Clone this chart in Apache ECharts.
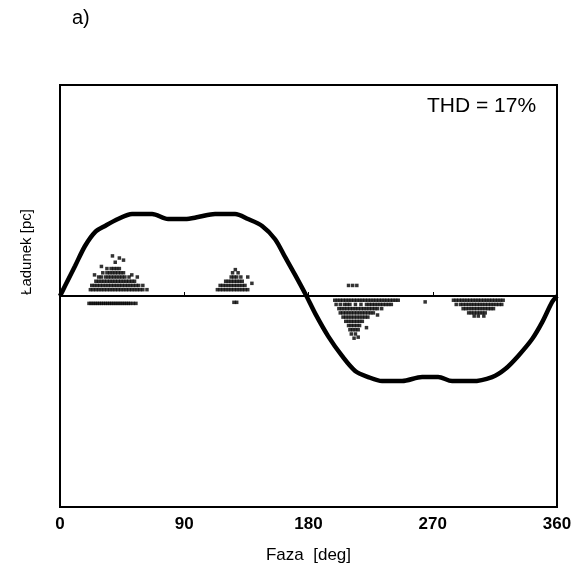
<!DOCTYPE html>
<html><head><meta charset="utf-8">
<script src="https://cdn.jsdelivr.net/npm/echarts@6/dist/echarts.min.js"></script>
<style>html,body{margin:0;padding:0;background:#fff}#c{width:585px;height:571px}</style>
</head><body><div id="c"></div>
<script>
// phase (deg) of the charge curve and its values
const curvePhase = [0,3.6,10.9,18.1,25.4,32.6,42,52.2,66.7,78.3,90.6,100,112.3,126.8,136.2,146.4,155.8,163,170.3,178.5,185,194.2,204.3,213.8,223.2,233.3,247.8,262.3,273.9,284,298.6,313,322.5,331.9,342,349.3,356.5,360];
const curveValue = [0,4.7,14.2,23.7,30.3,33.2,36.5,38.9,38.9,36.5,36.5,37.4,38.9,38.9,36.5,33.2,26.9,18.5,10,0,-8.5,-19,-28.4,-35.5,-38.4,-40.3,-40.3,-38.4,-38.4,-40.3,-40.3,-38.4,-34.6,-28.4,-20.4,-12.4,-2.8,0];
const zeroLine = [[0,0],[360,0]];
const xTicks = [0,90,180,270,360];

// partial discharge pulses: rows of [phase, value]
const pdCluster1 = [
 [22,3],[24,3],[26,3],[28,3],[30,3],[32,3],[34,3],[36,3],[38,3],[40,3],[42,3],[44,3],[46,3],[48,3],[50,3],[52,3],[54,3],[56,3],[58,3],[60,3],
 [23,5],[25,5],[27,5],[29,5],[31,5],[33,5],[35,5],[37,5],[39,5],[41,5],[43,5],[45,5],[47,5],[49,5],[51,5],[53,5],[55,5],[57,5],
 [26,7],[28,7],[30,7],[32,7],[34,7],[36,7],[38,7],[40,7],[42,7],[44,7],[46,7],[48,7],[50,7],[52,7],[54,7],
 [28,9],[30,9],[33,9],[35,9],[37,9],[39,9],[41,9],[43,9],[45,9],[47,9],[50,9],
 [31,11],[34,11],[36,11],[38,11],[40,11],[42,11],[44,11],[46,11],
 [34,13],[37,13],[39,13],[41,13],[43,13],
 [30,14],[40,16],[43,18],[46,17],[38,19],[52,10],[56,9],[25,10],[60,5],[63,3]
];
const pdBelow1 = [[21,-3.5],[22.5,-3.5],[24,-3.5],[25.5,-3.5],[27,-3.5],[28.5,-3.5],[30,-3.5],[31.5,-3.5],[33,-3.5],[34.5,-3.5],[36,-3.5],[37.5,-3.5],[39,-3.5],[40.5,-3.5],[42,-3.5],[43.5,-3.5],[45,-3.5],[46.5,-3.5],[48,-3.5],[49.5,-3.5],[51,-3.5],[53,-3.5],[55,-3.5]];
const pdCluster2 = [
 [114,3],[116,3],[118,3],[120,3],[122,3],[124,3],[126,3],[128,3],[130,3],[132,3],[134,3],[136,3],
 [116,5],[118,5],[120,5],[122,5],[124,5],[126,5],[128,5],[130,5],[132,5],[134,5],
 [120,7],[122,7],[124,7],[126,7],[128,7],[130,7],[132,7],
 [124,9],[126,9],[128,9],[131,9],
 [125,11],[129,11],[127,12.5],[139,6],[136,9],
 [126,-3],[128,-3]
];
const pdCluster3 = [
 [199,-2],[201,-2],[203,-2],[205,-2],[207,-2],[209,-2],[211,-2],[213,-2],[215,-2],[217,-2],[219,-2],[221,-2],[223,-2],[225,-2],[227,-2],[229,-2],[231,-2],[233,-2],[235,-2],[237,-2],[239,-2],[241,-2],[243,-2],[245,-2],
 [200,-4],[203,-4],[206,-4],[208,-4],[210,-4],[214,-4],[218,-4],[222,-4],[224,-4],[226,-4],[228,-4],[230,-4],[232,-4],[234,-4],[236,-4],[238,-4],[240,-4],
 [202,-6],[204,-6],[206,-6],[208,-6],[210,-6],[212,-6],[214,-6],[216,-6],[218,-6],[220,-6],[222,-6],[224,-6],[226,-6],[228,-6],[230,-6],[233,-6],
 [203,-8],[205,-8],[207,-8],[209,-8],[211,-8],[213,-8],[215,-8],[217,-8],[219,-8],[221,-8],[223,-8],[225,-8],[227,-8],
 [205,-10],[207,-10],[209,-10],[211,-10],[213,-10],[215,-10],[217,-10],[219,-10],[221,-10],[223,-10],
 [207,-12],[209,-12],[211,-12],[213,-12],[215,-12],[217,-12],[219,-12],
 [209,-14],[211,-14],[213,-14],[215,-14],[217,-14],
 [210,-16],[212,-16],[214,-16],[216,-16],
 [211,-18],[214,-18],[213,-20],[216,-19.5],[222,-15],[230,-9],[264.5,-2.8],
 [209,5],[212,5],[215,5]
];
const pdCluster4 = [
 [285,-2],[287,-2],[289,-2],[291,-2],[293,-2],[295,-2],[297,-2],[299,-2],[301,-2],[303,-2],[305,-2],[307,-2],[309,-2],[311,-2],[313,-2],[315,-2],[317,-2],[319,-2],[321,-2],
 [287,-4],[290,-4],[292,-4],[294,-4],[296,-4],[298,-4],[300,-4],[302,-4],[304,-4],[306,-4],[308,-4],[310,-4],[312,-4],[314,-4],[316,-4],[318,-4],[320,-4],
 [292,-6],[294,-6],[296,-6],[298,-6],[300,-6],[302,-6],[304,-6],[306,-6],[308,-6],[310,-6],[312,-6],[314,-6],
 [296,-8],[298,-8],[300,-8],[302,-8],[304,-8],[306,-8],[308,-8],
 [300,-9.5],[303,-9.5],[307,-9.5]
];

const chart = echarts.init(document.getElementById('c'));
const F = '"Liberation Sans", Arial, sans-serif';
const pdStyle = {type:'scatter', symbol:'rect', symbolSize:3.5, itemStyle:{color:'#000'}, silent:true, z:3};
chart.setOption({
  animation:false,
  backgroundColor:'#fff',
  grid:{left:60, right:28, top:85, bottom:64, show:true, borderColor:'#000', borderWidth:2, backgroundColor:'transparent'},
  xAxis:{type:'value', min:0, max:360, interval:90,
    axisLine:{show:true, lineStyle:{color:'#000', width:2}},
    axisTick:{show:true, inside:true, length:4, lineStyle:{color:'#000'}},
    axisLabel:{color:'#000', fontFamily:F, fontWeight:'bold', fontSize:17, margin:9,
      formatter:v=> xTicks.indexOf(v)>=0 ? String(v) : ''},
    splitLine:{show:false},
    name:'Faza  [deg]', nameLocation:'middle', nameGap:40,
    nameTextStyle:{color:'#000', fontFamily:F, fontSize:17}},
  yAxis:{type:'value', min:-100, max:100,
    axisLine:{show:false}, axisTick:{show:false}, axisLabel:{show:false}, splitLine:{show:false}},
  graphic:[
    {type:'text', left:72, top:8, style:{text:'a)', font:'20px '+F, fill:'#000'}},
    {type:'text', x:27, y:252, rotation:Math.PI/2, style:{text:'Ładunek [pc]', font:'15px '+F, fill:'#000', align:'center', verticalAlign:'middle'}},
    {type:'text', left:427, top:96, style:{text:'THD = 17%', font:'21px '+F, fill:'#000'}}
  ],
  series:[
    {type:'line', data:zeroLine, symbol:'none', lineStyle:{color:'#000', width:2}, silent:true, z:2},
    {type:'line', data:curvePhase.map((p,i)=>[p, curveValue[i]]), symbol:'none', smooth:0.3,
      lineStyle:{color:'#000', width:4.5}, silent:true, z:4},
    Object.assign({data:pdCluster1}, pdStyle),
    Object.assign({data:pdBelow1}, pdStyle),
    Object.assign({data:pdCluster2}, pdStyle),
    Object.assign({data:pdCluster3}, pdStyle),
    Object.assign({data:pdCluster4}, pdStyle)
  ]
});
</script></body></html>
